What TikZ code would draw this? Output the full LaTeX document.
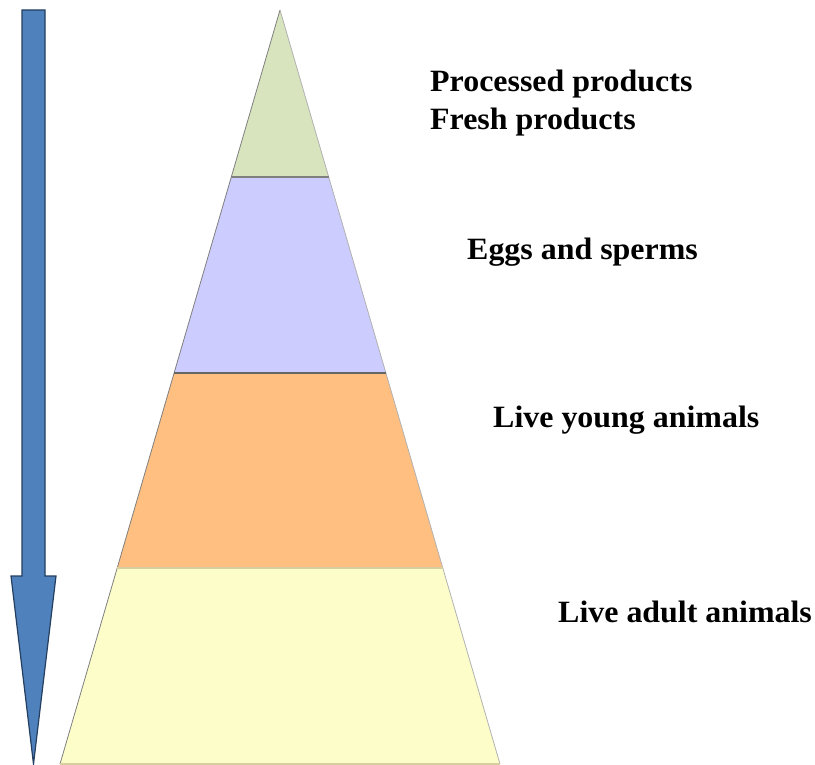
\documentclass[tikz,border=0pt]{standalone}
\usepackage{fontspec}
\setmainfont{Liberation Serif}
\newfontfamily\labelfont[FakeStretch=1.03]{Liberation Serif}
\definecolor{arrowblue}{HTML}{4F81BD}
\definecolor{arrowline}{HTML}{243F60}
\definecolor{bandgreen}{HTML}{D7E4BD}
\definecolor{bandblue}{HTML}{CCCCFF}
\definecolor{bandorange}{HTML}{FFBF80}
\definecolor{bandyellow}{HTML}{FDFDCA}
\definecolor{edgegray}{HTML}{7F7F7F}
\definecolor{edgetan}{HTML}{D8CFA0}
\tikzset{
  band/.style={draw=edgegray, line width=0.8pt, line join=round},
  sep/.style={line width=2pt},
  label/.style={anchor=base west, inner sep=0pt, font=\labelfont\fontsize{31}{37}\selectfont\bfseries}
}
\begin{document}
\begin{tikzpicture}[x=1pt, y=-1pt]
\useasboundingbox (0,0) rectangle (815,765);
% pyramid coordinates
\coordinate (apex) at (280,10);
\coordinate (l1) at (231.3,177); \coordinate (r1) at (328.7,177);
\coordinate (l2) at (174.1,373); \coordinate (r2) at (385.9,373);
\coordinate (l3) at (117.2,568); \coordinate (r3) at (442.8,568);
\coordinate (l4) at (60,764);    \coordinate (r4) at (500,764);
% bands
\fill[bandyellow] (l3) -- (r3) -- (r4) -- (l4) -- cycle;
\fill[bandorange] (l2) -- (r2) -- (r3) -- (l3) -- cycle;
\fill[bandblue] (l1) -- (r1) -- (r2) -- (l2) -- cycle;
\fill[bandgreen] (apex) -- (r1) -- (l1) -- cycle;
\draw[band] (apex) -- (l1) -- (l2) -- (l3) -- (l4);
\draw[band, draw=edgegray!60] (apex) -- (r1) -- (r2) -- (r3) -- (r4);
\draw[sep, draw=edgegray] (l1) -- (r1);
\draw[sep, draw=edgegray!80!black] (l2) -- (r2);
\draw[sep, line width=1.5pt, draw=edgetan] (l3) -- (r3);
\draw[line width=1.2pt, draw=edgetan] (l4) -- (r4);
% arrow
\draw[fill=arrowblue, draw=arrowline, line width=1.2pt, line join=miter]
  (22,10) -- (45,10) -- (45,576) -- (56,576) -- (33.5,764) -- (11,576) -- (22,576) -- cycle;
% labels
\node[label] (t1) at (430,92) {Processed products};
\node[label] (t2) at (430,130) {Fresh products};
\node[label] (t3) at (467,259) {Eggs and sperms};
\node[label] (t4) at (493,427) {Live young animals};
\node[label] (t5) at (558,622) {Live adult animals};
\end{tikzpicture}
\end{document}
